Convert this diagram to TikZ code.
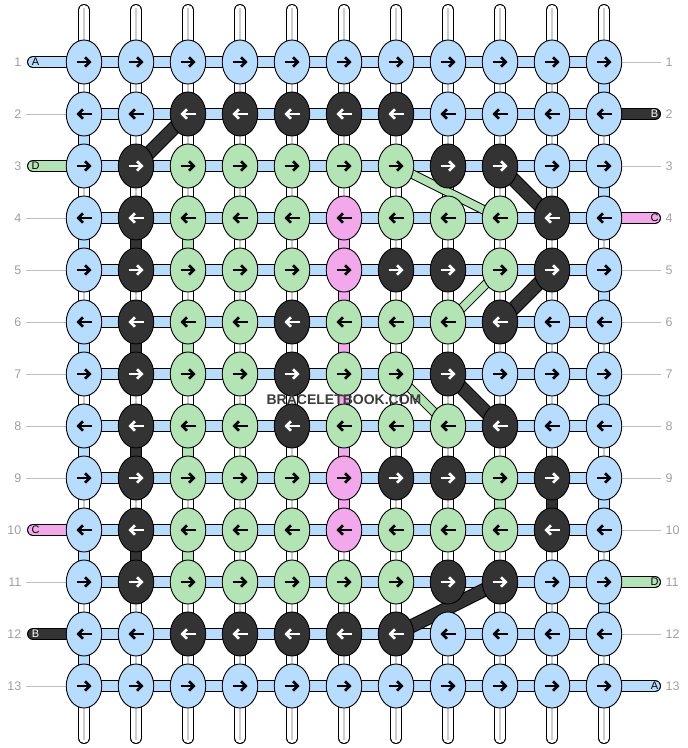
\documentclass[tikz,border=0pt]{standalone}
\usepackage{fontspec}
\setmainfont{Liberation Sans}
\usetikzlibrary{shapes.geometric,arrows.meta}
\pgfdeclarelayer{bg}
\pgfsetlayers{bg,main}
\definecolor{kb}{RGB}{182,220,254}
\definecolor{kg}{RGB}{178,228,180}
\definecolor{kp}{RGB}{244,168,236}
\definecolor{kd}{RGB}{51,51,51}
\definecolor{ab}{RGB}{0,0,0}
\definecolor{ag}{RGB}{0,0,0}
\definecolor{ap}{RGB}{0,0,0}
\definecolor{ad}{RGB}{255,255,255}
\definecolor{numgray}{RGB}{160,160,160}
\definecolor{linegray}{RGB}{190,190,190}
\definecolor{warpgray}{RGB}{205,205,205}
\definecolor{wmark}{RGB}{60,60,60}
\tikzset{
  knot/.style={ellipse, draw=black, line width=0.9pt, minimum width=35.5pt, minimum height=44pt, inner sep=0pt},
  arr/.style={line width=2.7pt, -{Straight Barb[length=4.6pt,width=9.5pt]}},
  warp/.style={draw=black, double=white, double distance=10pt, line width=1pt, line cap=round},
  warpmid/.style={draw=warpgray, line width=1.4pt},
  seg/.style={draw=black, double=#1, double distance=10pt, line width=1pt},
  tail/.style={draw=black, double=#1, double distance=10pt, line width=1pt, line cap=round},
  diagd/.style={draw=black, double=kd, double distance=12pt, line width=1pt},
  diagg/.style={draw=black, double=kg, double distance=7.5pt, line width=1pt},
  num/.style={text=numgray, font=\fontsize{12.5}{13}\selectfont, inner sep=0pt},
  lab/.style={font=\fontsize{11}{11}\selectfont, inner sep=0pt},
  guide/.style={draw=linegray, line width=0.8pt},
}
\begin{document}
\begin{tikzpicture}[x=1pt,y=-1pt]
\useasboundingbox (0,0) rectangle (688,748);
% knots with arrows
\foreach \r/\cl in {
  1/{b,b,b,b,b,b,b,b,b,b,b},
  2/{b,b,d,d,d,d,d,b,b,b,b},
  3/{b,d,g,g,g,g,g,d,d,b,b},
  4/{b,d,g,g,g,p,g,g,g,d,b},
  5/{b,d,g,g,g,p,d,d,g,d,b},
  6/{b,d,g,g,d,g,g,g,d,b,b},
  7/{b,d,g,g,d,g,g,d,b,b,b},
  8/{b,d,g,g,d,g,g,g,d,b,b},
  9/{b,d,g,g,g,p,d,d,g,d,b},
  10/{b,d,g,g,g,p,g,g,g,d,b},
  11/{b,d,g,g,g,g,g,d,d,b,b},
  12/{b,b,d,d,d,d,d,b,b,b,b},
  13/{b,b,b,b,b,b,b,b,b,b,b}}{
  \pgfmathsetmacro\yy{62+52*(\r-1)}
  \foreach \c [count=\i] in \cl {
    \pgfmathsetmacro\xx{84+52*(\i-1)}
    \node[knot, fill=k\c] (k-\r-\i) at (\xx,\yy) {};
    \ifodd\r\relax
      \draw[arr, draw=a\c] ([xshift=-7.5pt]k-\r-\i.center) -- ([xshift=7.5pt]k-\r-\i.center);
    \else
      \draw[arr, draw=a\c] ([xshift=7.5pt]k-\r-\i.center) -- ([xshift=-7.5pt]k-\r-\i.center);
    \fi
  }
}
% warp end coordinates
\foreach \i in {1,...,11}{
  \pgfmathsetmacro\xx{84+52*(\i-1)}
  \coordinate (top-\i) at (\xx,10);
  \coordinate (bot-\i) at (\xx,738);
  \coordinate (topm-\i) at (\xx,8);
  \coordinate (botm-\i) at (\xx,740);
}
% side coordinates
\foreach \r in {1,...,13}{
  \pgfmathsetmacro\yy{62+52*(\r-1)}
  \coordinate (gl-\r) at (26,\yy);
  \coordinate (gr-\r) at (661,\yy);
  \coordinate (tl-\r) at (33,\yy);
  \coordinate (tr-\r) at (655,\yy);
  \node[num, anchor=east] (nl-\r) at (21.5,\yy) {\r};
  \node[num, anchor=west] (nr-\r) at (665.5,\yy) {\r};
}
\begin{pgfonlayer}{bg}
  % warps
  \foreach \i in {1,...,11}{
    \draw[warp] (top-\i) -- (bot-\i);
    \draw[warpmid] (topm-\i) -- (botm-\i);
  }
  % coloured vertical segments
  \foreach \g/\i/\c in {1/11/b, 2/1/b, 3/11/b, 4/1/b, 4/2/d, 4/3/g, 4/6/p,
      5/6/p, 5/11/b, 6/1/b, 6/2/d, 6/3/g, 6/6/p, 7/6/p, 7/11/b,
      8/1/b, 8/2/d, 8/3/g, 8/6/p, 9/6/p, 9/9/g, 9/10/d, 9/11/b,
      10/1/b, 10/2/d, 10/3/g, 11/11/b, 12/1/b}{
    \pgfmathtruncatemacro\h{\g+1}
    \draw[seg=k\c] (k-\g-\i.center) -- (k-\h-\i.center);
  }
  % horizontal segments
  \foreach \r in {1,...,13}{
    \foreach \i in {1,...,10}{
      \pgfmathtruncatemacro\j{\i+1}
      \draw[seg=kb] (k-\r-\i.center) -- (k-\r-\j.center);
    }
  }
  % guide lines
  \foreach \r in {2,4,5,6,7,8,9,11,13}{
    \draw[guide] (gl-\r) -- (k-\r-1.west);
  }
  \foreach \r in {1,3,5,6,7,8,9,10,12}{
    \draw[guide] (k-\r-11.east) -- (gr-\r);
  }
  % tails
  \draw[tail=kb] (tl-1) -- (k-1-1.center);
  \draw[tail=kg] (tl-3) -- (k-3-1.center);
  \draw[tail=kp] (tl-10) -- (k-10-1.center);
  \draw[tail=kd] (tl-12) -- (k-12-1.center);
  \draw[tail=kd] (tr-2) -- (k-2-11.center);
  \draw[tail=kp] (tr-4) -- (k-4-11.center);
  \draw[tail=kg] (tr-11) -- (k-11-11.center);
  \draw[tail=kb] (tr-13) -- (k-13-11.center);
  % diagonals
  \foreach \ra/\ca/\rb/\cb in {2/3/3/2, 3/9/4/10, 5/10/6/9, 7/8/8/9, 11/9/12/7}{
    \draw[diagd] (k-\ra-\ca.center) -- (k-\rb-\cb.center);
  }
  \foreach \ra/\ca/\rb/\cb in {3/7/4/9, 5/9/6/8, 7/7/8/8}{
    \draw[diagg] (k-\ra-\ca.center) -- (k-\rb-\cb.center);
  }
\end{pgfonlayer}
% tail letters
\node[lab] (la-1) at (35.5,62) {A};
\node[lab] (la-3) at (35.5,166) {D};
\node[lab] (la-10) at (35.5,530) {C};
\node[lab, text=white] (la-12) at (35.5,634) {B};
\node[lab, text=white] (ra-2) at (654.5,114) {B};
\node[lab] (ra-4) at (654.5,218) {C};
\node[lab] (ra-11) at (654.5,582) {D};
\node[lab] (ra-13) at (654.5,686) {A};
% watermark
\node[font=\bfseries\fontsize{14}{14}\selectfont, text=wmark, inner sep=0pt] (wm) at (344,400) {BRACELETBOOK.COM};
\end{tikzpicture}
\end{document}
